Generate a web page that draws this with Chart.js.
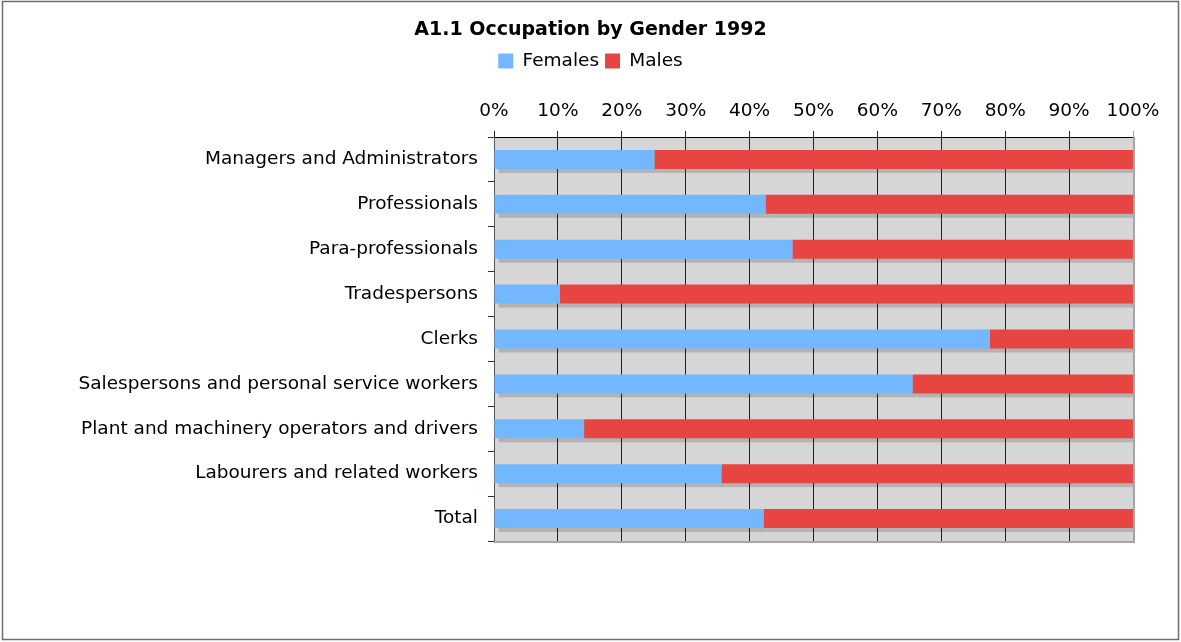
<!DOCTYPE html>
<html>
<head>
<meta charset="utf-8">
<script src="https://cdn.jsdelivr.net/npm/chart.js@4/dist/chart.umd.min.js"></script>
<style>
  body { margin: 0; background: #fff; }
  #wrap { width: 1181px; height: 642px; }
</style>
</head>
<body>
<div id="wrap"><canvas id="occ-canvas" width="1181" height="642"></canvas></div>
<script>
const occupations = [
  'Managers and Administrators',
  'Professionals',
  'Para-professionals',
  'Tradespersons',
  'Clerks',
  'Salespersons and personal service workers',
  'Plant and machinery operators and drivers',
  'Labourers and related workers',
  'Total'
]
const femalesPct = [25.1, 42.5, 46.7, 10.3, 77.6, 65.5, 14.1, 35.6, 42.2]
const malesPct = [74.9, 57.5, 53.3, 89.7, 22.4, 34.5, 85.9, 64.4, 57.8]
const tickLabels = ['0%', '10%', '20%', '30%', '40%', '50%', '60%', '70%', '80%', '90%', '100%']

const font = '"DejaVu Sans", Verdana, sans-serif'

// grey plot background, bar shadows and frame
const decor = {
  id: 'decor',
  beforeDraw(chart) {
    const { ctx, chartArea: a } = chart
    ctx.save()
    ctx.fillStyle = '#d6d6d6'
    ctx.fillRect(a.left, a.top, a.right - a.left, a.bottom - a.top)
    ctx.beginPath()
    ctx.rect(a.left, a.top, a.right - a.left, a.bottom - a.top)
    ctx.clip()
    ctx.fillStyle = '#b3b3b3'
    chart.data.datasets.forEach((ds, i) => {
      chart.getDatasetMeta(i).data.forEach(bar => {
        const x0 = Math.min(bar.x, bar.base)
        const w = Math.abs(bar.x - bar.base)
        ctx.fillRect(x0 + 4, bar.y - bar.height / 2 + 4, w, bar.height)
      })
    })
    ctx.restore()
  },
  afterDraw(chart) {
    const { ctx, chartArea: a } = chart
    ctx.save()
    ctx.strokeStyle = '#a6a6a6'
    ctx.lineWidth = 2
    ctx.beginPath()
    ctx.moveTo(a.left, a.bottom + 1)
    ctx.lineTo(a.right + 1, a.bottom + 1)
    ctx.lineTo(a.right + 1, a.top)
    ctx.stroke()
    ctx.strokeStyle = '#6e6e6e'
    ctx.lineWidth = 1.5
    ctx.strokeRect(2.5, 1.5, 1176, 638)
    ctx.restore()
  }
}

const data = {
  labels: occupations,
  datasets: [{
    label: 'Females',
    backgroundColor: '#73b8ff',
    borderWidth: 0,
    data: femalesPct
  },
  {
    label: 'Males',
    backgroundColor: '#e64541',
    borderWidth: 0,
    data: malesPct
  }]
}

const config = {
  type: 'bar',
  data: data,
  plugins: [decor],
  options: {
    indexAxis: 'y',
    responsive: false,
    animation: false,
    categoryPercentage: 1,
    barPercentage: 0.423,
    layout: { padding: { left: 0, right: 0, top: 0, bottom: 101 } },
    plugins: {
      title: {
        display: true,
        text: 'A1.1 Occupation by Gender 1992',
        color: '#000',
        font: { family: font, size: 19, weight: 'bold' },
        padding: { top: 19, bottom: 4 }
      },
      legend: {
        display: true,
        labels: {
          color: '#000',
          font: { family: font, size: 18.5 },
          boxWidth: 15,
          boxHeight: 15,
          padding: 6
        }
      },
      tooltip: { enabled: false }
    },
    scales: {
      x: {
        position: 'top',
        stacked: true,
        min: 0,
        max: 100,
        ticks: {
          stepSize: 10,
          color: '#000',
          padding: 9,
          font: { family: font, size: 18.5 },
          callback: (v, i) => tickLabels[i]
        },
        grid: {
          color: ctx => ctx.index === 10 ? '#a6a6a6' : '#222',
          tickLength: 6,
          drawTicks: true
        },
        border: { color: '#000', width: 1 },
        afterFit(scale) {
          const c = scale.chart
          const used = (c.titleBlock ? c.titleBlock.height : 0) + (c.legend ? c.legend.height : 0)
          scale.height = 137 - used
        }
      },
      y: {
        stacked: true,
        ticks: {
          color: '#000',
          padding: 10,
          font: { family: font, size: 18.5 }
        },
        grid: {
          offset: true,
          drawOnChartArea: false,
          tickLength: 6,
          color: '#333'
        },
        border: { color: '#555', width: 1 },
        afterFit(scale) {
          scale.width = 494
        }
      },
      // empty spacer on the right so title and legend centre on the page
      spacer: {
        axis: 'y',
        type: 'linear',
        position: 'right',
        ticks: { display: false },
        grid: { display: false },
        border: { display: false },
        afterFit(scale) {
          scale.width = 48
        }
      }
    }
  }
}

globalThis.occChart = new Chart(document.getElementById('occ-canvas'), config)
</script>
</body>
</html>
